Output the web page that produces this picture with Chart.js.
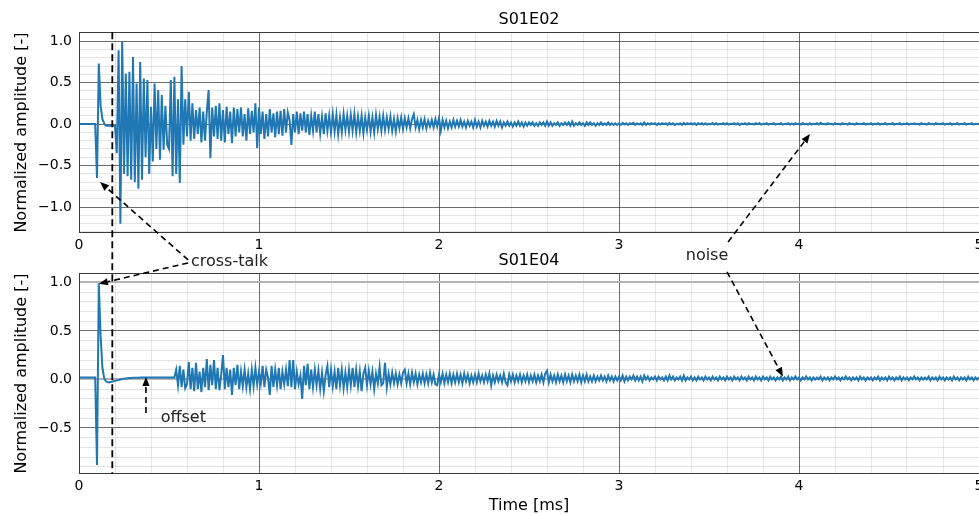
<!DOCTYPE html>
<html>
<head>
<meta charset="utf-8">
<script src="https://cdn.jsdelivr.net/npm/chart.js@4.4.0/dist/chart.umd.min.js"></script>
<style>
  html, body { margin: 0; padding: 0; background: #fff; }
  #wrap { position: relative; width: 979px; height: 515px; overflow: hidden; background: #fff; }
  canvas { position: absolute; left: 0; top: 0; }
</style>
</head>
<body>
<div id="wrap">
  <canvas id="chartE02" width="990" height="257"></canvas>
  <canvas id="chartE04" width="990" height="515"></canvas>
</div>
<script>
// sampling step of both records (ms)
const dt = 0.01;

// S01E02, one row = 0.1 ms
const ampE02 = [
  0, 0, 0, 0, 0, 0, 0, 0, 0, 0,
  -0.65, 0.73, 0.22, 0.06, 0.01, -0.02, -0.02, -0.02, -0.02, -0.02,
  -0.02, -0.35, 0.89, -1.2, 1.0, -0.6, 0.61, -0.63, 0.63, -0.67,
  0.81, -0.7, 0.49, -0.78, 0.75, -0.67, 0.55, -0.4, 0.53, -0.6,
  0.21, -0.45, 0.49, -0.3, 0.41, -0.43, 0.35, -0.31, 0.22, -0.25,
  -0.3, 0.53, -0.63, 0.57, -0.6, 0.3, -0.71, 0.7, -0.25, 0.3,
  -0.15, 0.39, -0.2, 0.25, -0.18, 0.17, -0.12, 0.2, -0.22, 0.15,
  -0.2, 0.15, 0.41, -0.41, 0.2, -0.15, 0.22, -0.18, 0.25, -0.2,
  0.17, -0.22, 0.21, -0.12, 0.15, -0.23, 0.2, -0.15, 0.18, -0.1,
  0.2, -0.15, 0.12, -0.2, 0.19, -0.12, 0.16, -0.1, 0.25, -0.29,
  0.2, -0.12, 0.15, -0.18, 0.12, -0.15, 0.18, -0.1, 0.13, -0.16,
  0.15, -0.12, 0.16, -0.14, 0.18, -0.1, 0.14, 0.05, -0.25, 0.12,
  -0.1, 0.15, -0.12, 0.13, -0.08, 0.15, -0.1, 0.12, -0.13, 0.1,
  -0.08, 0.15, -0.1, 0.12, -0.11, 0.09, -0.12, 0.13, -0.08, 0.1,
  -0.1, 0.12, -0.09, 0.11, -0.12, 0.08, -0.1, 0.12, -0.07, 0.1,
  -0.09, 0.11, -0.08, 0.12, -0.1, 0.09, -0.08, 0.1, -0.11, 0.08,
  -0.07, 0.1, -0.09, 0.08, -0.1, 0.11, -0.06, 0.09, -0.08, 0.1,
  -0.07, 0.08, -0.06, 0.09, -0.08, 0.06, -0.09, 0.07, -0.05, 0.08,
  -0.06, 0.07, -0.04, 0.07, -0.05, 0.06, 0.12, -0.04, 0.05, -0.06,
  0.05, -0.04, 0.06, -0.05, 0.04, -0.03, 0.05, -0.04, 0.06, -0.03,
  0.07, -0.08, 0.05, -0.04, 0.04, -0.05, 0.03, -0.04, 0.05, -0.03,
  0.04, -0.03, 0.05, -0.03, 0.03, -0.04, 0.04, -0.02, 0.03, -0.04,
  0.05, -0.03, 0.03, -0.04, 0.04, -0.02, 0.03, -0.03, 0.04, -0.02,
  0.03, -0.03, 0.04, -0.02, 0.03, -0.04, 0.02, -0.02, 0.03, -0.02,
  0.02, -0.03, 0.02, -0.02, 0.03, -0.02, 0.02, -0.03, 0.02, -0.02,
  0.02, -0.01, 0.02, -0.02, 0.01, -0.02, 0.02, -0.01, 0.02, -0.02,
  0.03, -0.02, 0.02, -0.02, 0.01, -0.01, 0.02, -0.02, 0.01, -0.01,
  0.02, -0.01, 0.02, -0.02, 0.03, -0.02, 0.01, -0.01, 0.02, -0.01,
  0.01, -0.02, 0.02, -0.01, 0.02, -0.01, 0.01, -0.02, 0.01, -0.01,
  0.02, -0.01, 0.01, -0.01, 0.02, -0.01, 0.01, -0.01, 0.01, -0.01,
  0.01, -0.01, 0.015, -0.005, 0.01, -0.01, 0.01, 0, 0.015, -0.01,
  0.01, -0.005, 0.01, -0.01, 0.02, -0.01, 0.01, -0.005, 0.01, 0,
  0.01, -0.01, 0.01, -0.005, 0.01, 0, 0.01, -0.01, 0.015, -0.005,
  0.01, -0.01, 0.005, -0.005, 0.01, -0.01, 0.015, -0.005, 0.01, 0,
  0.01, -0.005, 0.01, -0.01, 0.01, 0, 0.01, -0.005, 0.01, -0.005,
  0.005, 0, 0.01, -0.005, 0.01, -0.005, 0.005, 0, 0.01, -0.005,
  0.01, -0.005, 0.005, 0, 0.01, -0.005, 0.01, -0.01, 0.005, 0,
  0.01, -0.005, 0.01, 0, 0.005, -0.005, 0.01, 0, 0.01, -0.005,
  0.005, 0, 0.01, -0.005, 0.005, 0, 0.01, -0.005, 0.005, 0,
  0.01, -0.005, 0.005, 0, 0.01, -0.005, 0.005, -0.005, 0.01, 0,
  0.005, -0.005, 0.01, 0, 0.005, -0.005, 0.01, -0.005, 0.005, 0,
  0.01, -0.005, 0.015, 0, 0.005, -0.005, 0.01, 0, 0.005, -0.005,
  0.01, 0, 0.005, -0.005, 0.01, 0, 0.005, -0.005, 0.01, 0,
  0.005, -0.005, 0.01, 0, 0.005, 0, 0.01, -0.005, 0.005, 0,
  0.01, -0.005, 0.005, 0, 0.01, -0.005, 0.005, 0, 0.01, -0.005,
  0.005, 0, 0.01, -0.005, 0.005, 0, 0.01, -0.005, 0.005, 0,
  0.01, -0.005, 0.005, 0, 0.01, 0, 0.005, -0.005, 0.01, 0,
  0.005, -0.005, 0.01, 0, 0.005, -0.005, 0.01, 0, 0.005, 0,
  0.01, -0.005, 0.005, 0, 0.01, -0.005, 0.005, 0, 0.01, -0.005,
  0.005, 0, 0.01, -0.005, 0.005, 0, 0.01, -0.005, 0.005, 0,
  0.005
];

// S01E04, one row = 0.1 ms
const ampE04 = [
  0.02, 0.02, 0.02, 0.02, 0.02, 0.02, 0.02, 0.02, 0.02, 0.02,
  -0.88, 0.99, 0.45, 0.12, 0.01, -0.02, -0.03, -0.03, -0.025, -0.02,
  -0.015, -0.01, -0.005, 0, 0.005, 0.008, 0.01, 0.012, 0.014, 0.015,
  0.016, 0.017, 0.018, 0.018, 0.019, 0.019, 0.02, 0.02, 0.02, 0.02,
  0.02, 0.02, 0.02, 0.02, 0.02, 0.02, 0.02, 0.02, 0.02, 0.02,
  0.02, 0.02, 0.02, 0.02, 0.1, -0.06, 0.14, -0.08, 0.1, -0.09,
  -0.05, 0.18, -0.1, 0.12, -0.12, 0.17, -0.1, 0.08, -0.13, 0.12,
  -0.08, 0.21, -0.11, 0.15, -0.06, 0.2, -0.1, 0.12, -0.11, 0.05,
  0.25, -0.1, 0.12, -0.08, 0.1, -0.16, 0.12, -0.06, 0.15, -0.1,
  0.08, -0.07, 0.1, -0.08, 0.06, -0.1, 0.1, -0.07, 0.12, -0.05,
  0.08, -0.04, 0.14, -0.08, 0.1, 0.02, -0.16, 0.14, -0.08, 0.1,
  -0.06, 0.12, -0.1, 0.08, -0.05, 0.1, -0.07, 0.2, -0.08, 0.2,
  -0.1, 0.08, -0.05, 0.04, -0.2, 0.14, -0.06, 0.16, -0.1, 0.1,
  -0.08, 0.1, -0.06, 0.09, -0.1, 0.07, -0.12, 0.05, 0.14, -0.08,
  0.1, -0.07, 0.08, -0.1, 0.12, -0.06, 0.1, -0.09, 0.07, -0.08,
  0.1, -0.06, 0.12, -0.08, 0.1, -0.07, 0.08, -0.12, 0.06, 0.12,
  -0.06, 0.09, -0.05, 0.08, -0.1, 0.06, -0.04, 0.13, -0.06, -0.04,
  0.17, -0.08, 0.06, -0.05, 0.07, -0.04, 0.06, -0.05, 0.05, -0.04,
  0.07, 0.1, -0.04, 0.06, -0.05, 0.07, -0.03, 0.06, -0.05, 0.05,
  -0.03, 0.06, -0.04, 0.05, -0.04, 0.07, -0.03, 0.05, -0.05, -0.06,
  0.05, -0.03, 0.06, -0.04, 0.05, -0.03, 0.06, -0.04, 0.05, -0.03,
  0.06, -0.03, 0.05, -0.04, 0.06, -0.02, 0.05, -0.04, 0.04, -0.03,
  0.05, -0.03, 0.06, -0.02, 0.04, -0.03, 0.05, -0.02, 0.06, -0.06,
  0.04, -0.03, 0.05, -0.02, 0.04, -0.03, 0.06, -0.03, -0.06, 0.05,
  -0.02, 0.05, -0.03, 0.04, -0.02, 0.05, -0.03, 0.04, -0.02, 0.05,
  -0.03, 0.04, -0.02, 0.05, -0.03, 0.04, -0.02, 0.05, -0.03, 0.06,
  0.09, -0.03, 0.05, -0.02, 0.04, -0.03, 0.05, -0.02, 0.04, -0.03,
  0.05, -0.02, 0.04, -0.03, 0.05, -0.02, 0.04, -0.02, 0.05, -0.03,
  0.04, -0.02, 0.05, -0.02, 0.03, -0.02, 0.04, -0.02, 0.03, -0.01,
  0.04, -0.01, 0.03, -0.02, 0.04, -0.01, 0.03, -0.02, 0.03, -0.01,
  0.03, -0.01, 0.04, -0.02, 0.03, -0.01, 0.03, 0, 0.04, -0.01,
  0.03, -0.01, 0.03, -0.02, 0.04, 0, 0.03, -0.01, 0.02, 0,
  0.03, -0.01, 0.03, 0, 0.02, -0.01, 0.03, -0.01, 0.04, 0,
  0.03, -0.01, 0.02, 0, 0.03, -0.01, 0.04, -0.01, 0.02, 0,
  0.03, -0.01, 0.02, -0.01, 0.03, 0, 0.02, -0.01, 0.03, 0,
  0.02, -0.01, 0.03, 0, 0.02, -0.01, 0.03, 0, 0.02, -0.01,
  0.03, 0, 0.02, -0.01, 0.03, 0, 0.02, -0.01, 0.03, 0,
  0.02, -0.01, 0.03, 0, 0.02, -0.01, 0.03, 0, 0.02, -0.01,
  0.03, 0, 0.02, -0.01, 0.03, 0, 0.02, -0.01, 0.02, 0,
  0.03, -0.01, 0.02, 0, 0.03, -0.01, 0.02, 0, 0.03, 0,
  0.02, -0.01, 0.02, 0, 0.03, 0, 0.02, -0.01, 0.02, 0,
  0.02, 0, 0.03, -0.01, 0.02, 0, 0.02, -0.01, 0.02, 0,
  0.03, 0, 0.02, -0.01, 0.02, 0, 0.03, 0, 0.02, -0.01,
  0.02, 0, 0.02, -0.01, 0.03, 0, 0.02, -0.01, 0.02, 0,
  0.02, -0.01, 0.02, 0, 0.03, -0.01, 0.02, 0, 0.02, -0.01,
  0.03, 0, 0.02, -0.01, 0.02, 0, 0.03, -0.01, 0.02, 0,
  0.02, -0.01, 0.02, 0, 0.03, 0, 0.02, -0.01, 0.02, 0,
  0.02, 0, 0.03, -0.01, 0.02, 0, 0.02, -0.01, 0.03, 0,
  0.02, -0.01, 0.02, 0, 0.02, -0.01, 0.03, 0, 0.02, -0.01,
  0.02, 0, 0.02, -0.01, 0.03, 0, 0.02, -0.01, 0.02, 0,
  0.02
];

const titles = { E02: 'S01E02', E04: 'S01E04' };
const xTickLabels = [0, 1, 2, 3, 4, 5];
const xRange = [0, 5];
const yRangeE02 = [-1.313, 1.108];
const yRangeE04 = [-0.974, 1.094];
const xMinorStep = 0.2;
const yMinorStep = 0.1;
const yMajorStep = 0.5;
const gateTime = 0.185;   // dashed vertical marker (ms)

// notes: [text, x, y, align] in S01E04 axes units
const noteTexts = [
  ['cross-talk', 0.622, 1.169, 'left'],
  ['noise', 3.489, 1.231, 'center'],
  ['offset', 0.454, -0.436, 'left']
];
// arrows: [tail panel, x, y, head panel, x, y]
const noteArrows = [
  ['E04', 0.606, 1.231, 'E02', 0.117, -0.699],
  ['E04', 0.606, 1.2, 'E04', 0.111, 0.985],
  ['E04', 3.606, 1.415, 'E02', 4.061, -0.12],
  ['E04', 3.6, 1.108, 'E04', 3.911, 0.031],
  ['E04', 0.372, -0.346, 'E04', 0.372, 0.024]
];

const FONT = 'DejaVu Sans';
const charts = {};

function isMultiple(v, step) {
  const r = v / step;
  return Math.abs(r - Math.round(r)) < 1e-6;
}
function gridValues(lo, hi, step) {
  const out = [];
  for (let k = Math.ceil(lo / step - 1e-9); k * step <= hi + 1e-9; k++) out.push(+(k * step).toFixed(4));
  return out;
}
function fmtY(v) {
  const r = Math.round(v * 10) / 10;
  return (r < 0 ? '\u2212' : '') + Math.abs(r).toFixed(1);
}

const framePlugin = {
  id: 'frame',
  afterDraw(chart) {
    const { ctx, chartArea: a } = chart;
    ctx.save();
    ctx.strokeStyle = '#3a3a3a';
    ctx.lineWidth = 1;
    ctx.strokeRect(Math.round(a.left) + 0.5, Math.round(a.top) + 0.5,
      Math.round(a.right - a.left), Math.round(a.bottom - a.top) - 1);
    ctx.restore();
  }
};

function drawArrow(ctx, x0, y0, x1, y1) {
  const ang = Math.atan2(y1 - y0, x1 - x0);
  const headLen = 9, headW = 3.6;
  const bx = x1 - headLen * Math.cos(ang), by = y1 - headLen * Math.sin(ang);
  ctx.setLineDash([6, 4]);
  ctx.beginPath();
  ctx.moveTo(x0, y0);
  ctx.lineTo(bx, by);
  ctx.stroke();
  ctx.setLineDash([]);
  ctx.beginPath();
  ctx.moveTo(x1, y1);
  ctx.lineTo(bx + headW * Math.sin(ang), by - headW * Math.cos(ang));
  ctx.lineTo(bx - headW * Math.sin(ang), by + headW * Math.cos(ang));
  ctx.closePath();
  ctx.fill();
}

// annotations live on the lower canvas, which covers the whole figure
const notesPlugin = {
  id: 'notes',
  afterDraw(chart) {
    const panel = k => (k === 'E04' ? chart : charts.E02);
    const at = (k, x, y) => [panel(k).scales.x.getPixelForValue(x), panel(k).scales.y.getPixelForValue(y)];
    const ctx = chart.ctx;
    ctx.save();
    ctx.strokeStyle = '#000';
    ctx.fillStyle = '#000';

    const gx = chart.scales.x.getPixelForValue(gateTime);
    ctx.lineWidth = 1.8;
    ctx.setLineDash([7, 4]);
    ctx.beginPath();
    ctx.moveTo(gx, charts.E02.chartArea.top);
    ctx.lineTo(gx, chart.chartArea.bottom);
    ctx.stroke();

    ctx.lineWidth = 1.6;
    noteArrows.forEach(([k0, x0, y0, k1, x1, y1]) => {
      const p0 = at(k0, x0, y0), p1 = at(k1, x1, y1);
      drawArrow(ctx, p0[0], p0[1], p1[0], p1[1]);
    });

    ctx.setLineDash([]);
    ctx.fillStyle = '#222';
    ctx.font = '16px "' + FONT + '"';
    ctx.textBaseline = 'alphabetic';
    noteTexts.forEach(([txt, x, y, align]) => {
      const p = at('E04', x, y);
      ctx.textAlign = align;
      ctx.fillText(txt, p[0], p[1]);
    });
    ctx.restore();
  }
};

function makeChart(key, amps, yRange, bottomPanel) {
  const majorColor = 'rgba(60,60,60,0.75)';
  const minorColor = 'rgba(0,0,0,0.1)';
  const refLine = v => bottomPanel && (Math.abs(v) < 1e-6 || Math.abs(v - 1) < 1e-6);
  const plugins = bottomPanel ? [framePlugin, notesPlugin] : [framePlugin];
  return new Chart(document.getElementById('chart' + key), {
    type: 'line',
    data: {
      datasets: [{
        data: amps.map((v, i) => ({ x: +(i * dt).toFixed(2), y: v })),
        borderColor: '#1f77b4',
        borderWidth: 2,
        pointRadius: 0,
        tension: 0,
        fill: false
      }]
    },
    plugins: plugins,
    options: {
      responsive: false,
      animation: false,
      events: [],
      layout: { padding: { top: bottomPanel ? 241 : 0, right: 11, left: 0, bottom: 0 } },
      plugins: {
        legend: { display: false },
        tooltip: { enabled: false },
        title: {
          display: true,
          text: titles[key],
          fullSize: false,
          color: '#000',
          font: { family: FONT, size: 16, weight: 'normal' },
          padding: { top: 10, bottom: 3 }
        }
      },
      scales: {
        x: {
          type: 'linear',
          min: xRange[0],
          max: xRange[1],
          afterBuildTicks: s => { s.ticks = gridValues(xRange[0], xRange[1], xMinorStep).map(v => ({ value: v })); },
          afterFit: s => { s.height = bottomPanel ? 41 : 24; },
          ticks: {
            autoSkip: false,
            maxRotation: 0,
            padding: 4,
            color: '#000',
            font: { family: FONT, size: 14 },
            callback: v => (isMultiple(v, 1) && xTickLabels.includes(Math.round(v)) ? String(Math.round(v)) : '')
          },
          grid: {
            drawTicks: false,
            color: c => (isMultiple(c.tick.value, 1) ? majorColor : minorColor),
            lineWidth: 1
          },
          border: { display: false },
          title: {
            display: bottomPanel,
            text: 'Time [ms]',
            color: '#000',
            font: { family: FONT, size: 16 },
            padding: { top: 0, bottom: 0 }
          }
        },
        y: {
          type: 'linear',
          min: yRange[0],
          max: yRange[1],
          afterBuildTicks: s => { s.ticks = gridValues(yRange[0], yRange[1], yMinorStep).map(v => ({ value: v })); },
          afterFit: s => { s.width = 79; },
          ticks: {
            autoSkip: false,
            padding: 7,
            color: '#000',
            font: { family: FONT, size: 14 },
            callback: v => (isMultiple(v, yMajorStep) ? fmtY(v) : '')
          },
          grid: {
            drawTicks: false,
            color: c => (refLine(c.tick.value) ? '#b4b4b4' : isMultiple(c.tick.value, yMajorStep) ? majorColor : minorColor),
            lineWidth: c => (refLine(c.tick.value) ? 2 : 1)
          },
          border: { display: false },
          title: {
            display: true,
            text: 'Normalized amplitude [-]',
            color: '#000',
            font: { family: FONT, size: 16 },
            padding: { top: 12, bottom: 0 }
          }
        }
      }
    }
  });
}

charts.E02 = makeChart('E02', ampE02, yRangeE02, false);
charts.E04 = makeChart('E04', ampE04, yRangeE04, true);
</script>
</body>
</html>
